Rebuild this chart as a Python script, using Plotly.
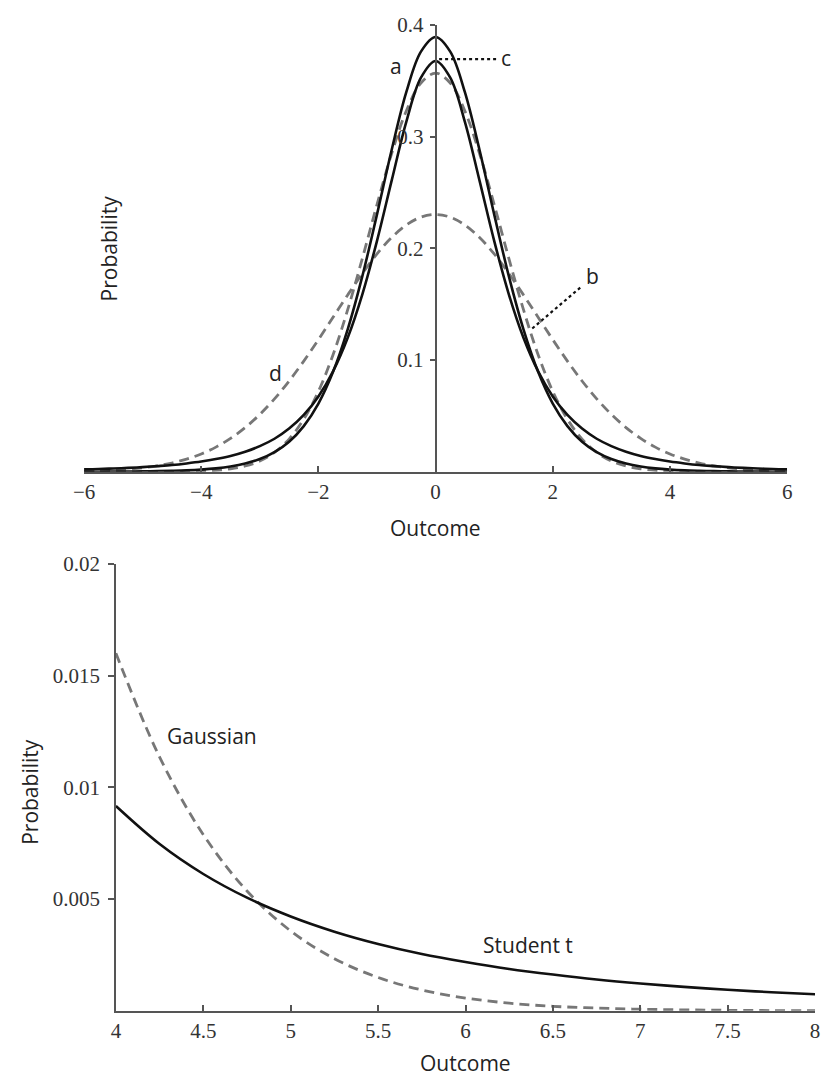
import plotly.graph_objects as go

# ---------------- data ----------------
x_top = [-6.0, -5.75, -5.5, -5.25, -5.0, -4.75, -4.5, -4.25, -4.0, -3.75, -3.5, -3.25,
         -3.0, -2.75, -2.5, -2.25, -2.0, -1.75, -1.5, -1.25, -1.0, -0.75, -0.5, -0.25,
         0.0, 0.25, 0.5, 0.75, 1.0, 1.25, 1.5, 1.75, 2.0, 2.25, 2.5, 2.75, 3.0, 3.25,
         3.5, 3.75, 4.0, 4.25, 4.5, 4.75, 5.0, 5.25, 5.5, 5.75, 6.0]

curve_a = [0.0001, 0.0001, 0.0002, 0.0003, 0.0004, 0.0006, 0.0009, 0.0013, 0.0020, 0.0031,
           0.0048, 0.0074, 0.0114, 0.0176, 0.0269, 0.0409, 0.0611, 0.0895, 0.1275, 0.1751,
           0.2304, 0.2880, 0.3397, 0.3760, 0.3891, 0.3760, 0.3397, 0.2880, 0.2304, 0.1751,
           0.1275, 0.0895, 0.0611, 0.0409, 0.0269, 0.0176, 0.0114, 0.0074, 0.0048, 0.0031,
           0.0020, 0.0013, 0.0009, 0.0006, 0.0004, 0.0003, 0.0002, 0.0001, 0.0001]

curve_b = [0.0, 0.0, 0.0, 0.0, 0.0, 0.0, 0.0001, 0.0003, 0.0006, 0.0013, 0.0027, 0.0052,
           0.0097, 0.0173, 0.0293, 0.0471, 0.0720, 0.1048, 0.1451, 0.1910, 0.2392, 0.2849,
           0.3229, 0.3480, 0.3568, 0.3480, 0.3229, 0.2849, 0.2392, 0.1910, 0.1451, 0.1048,
           0.0720, 0.0471, 0.0293, 0.0173, 0.0097, 0.0052, 0.0027, 0.0013, 0.0006, 0.0003,
           0.0001, 0.0, 0.0, 0.0, 0.0, 0.0, 0.0]

curve_c = [0.0022, 0.0025, 0.0030, 0.0035, 0.0042, 0.0051, 0.0061, 0.0075, 0.0092, 0.0114,
           0.0142, 0.0180, 0.0230, 0.0296, 0.0387, 0.0509, 0.0675, 0.0900, 0.1200, 0.1589,
           0.2067, 0.2606, 0.3132, 0.3527, 0.3676, 0.3527, 0.3132, 0.2606, 0.2067, 0.1589,
           0.1200, 0.0900, 0.0675, 0.0509, 0.0387, 0.0296, 0.0230, 0.0180, 0.0142, 0.0114,
           0.0092, 0.0075, 0.0061, 0.0051, 0.0042, 0.0035, 0.0030, 0.0025, 0.0022]

curve_d = [0.0006, 0.0009, 0.0015, 0.0023, 0.0036, 0.0054, 0.0079, 0.0114, 0.0160, 0.0221,
           0.0299, 0.0396, 0.0514, 0.0653, 0.0813, 0.0991, 0.1183, 0.1383, 0.1583, 0.1775,
           0.1950, 0.2097, 0.2209, 0.2279, 0.2303, 0.2279, 0.2209, 0.2097, 0.1950, 0.1775,
           0.1583, 0.1383, 0.1183, 0.0991, 0.0813, 0.0653, 0.0514, 0.0396, 0.0299, 0.0221,
           0.0160, 0.0114, 0.0079, 0.0054, 0.0036, 0.0023, 0.0015, 0.0009, 0.0006]

x_tail = [4.0, 4.25, 4.5, 4.75, 5.0, 5.25, 5.5, 5.75, 6.0, 6.25, 6.5, 6.75, 7.0, 7.25, 7.5, 7.75, 8.0]
student_t = [0.00916, 0.00746, 0.00612, 0.00506, 0.00422, 0.00354, 0.00299, 0.00254, 0.00218,
             0.00187, 0.00162, 0.00140, 0.00122, 0.00107, 0.00094, 0.00083, 0.00074]
gaussian = [0.01600, 0.01135, 0.00788, 0.00536, 0.00357, 0.00233, 0.00149, 0.00093, 0.00057,
            0.00034, 0.00020, 0.00012, 0.00007, 0.00004, 0.00002, 0.00001, 0.00001]

top_xticks = [-6, -4, -2, 0, 2, 4, 6]
top_xticktext = ["\u22126", "\u22124", "\u22122", "0", "2", "4", "6"]
top_yticks = [0.1, 0.2, 0.3, 0.4]
top_yticktext = ["0.1", "0.2", "0.3", "0.4"]
bot_xticks = [4, 4.5, 5, 5.5, 6, 6.5, 7, 7.5, 8]
bot_xticktext = ["4", "4.5", "5", "5.5", "6", "6.5", "7", "7.5", "8"]
bot_yticks = [0.005, 0.01, 0.015, 0.02]
bot_yticktext = ["0.005", "0.01", "0.015", "0.02"]

# ---------------- styling ----------------
SOLID = "#111111"
DASH = "#777777"
AXIS = "#555555"
TICKFONT = dict(family="Liberation Serif, Times New Roman, serif", size=21, color="#333333")
LABELFONT = dict(family="Open Sans, Noto Sans, sans-serif", size=21, color="#222222")
W = 2.6
DASHPAT = "10px,6px"

fig = go.Figure()

def add(x, y, color, dash, xa, ya, width=W):
    fig.add_trace(go.Scatter(x=x, y=y, mode="lines", xaxis=xa, yaxis=ya,
                             line=dict(color=color, width=width, dash=dash, shape="spline", smoothing=1.0),
                             hoverinfo="skip", showlegend=False))

# top panel
add(x_top, curve_d, DASH, DASHPAT, "x", "y", 2.8)
add(x_top, curve_b, DASH, DASHPAT, "x", "y", 2.8)
add(x_top, curve_c, SOLID, "solid", "x", "y")
add(x_top, curve_a, SOLID, "solid", "x", "y")

# leader lines (top)
fig.add_trace(go.Scatter(x=[0.06, 1.04], y=[0.3693, 0.3693], mode="lines", xaxis="x", yaxis="y",
                         line=dict(color=SOLID, width=2.2, dash="3px,3px"), hoverinfo="skip", showlegend=False))
fig.add_trace(go.Scatter(x=[1.65, 2.49], y=[0.1283, 0.1658], mode="lines", xaxis="x", yaxis="y",
                         line=dict(color=SOLID, width=2.2, dash="3px,3px"), hoverinfo="skip", showlegend=False))

# bottom panel
add(x_tail, gaussian, DASH, DASHPAT, "x2", "y2", 2.8)
add(x_tail, student_t, SOLID, "solid", "x2", "y2")

top_xdom = [74.5 / 824, 791.5 / 824]
top_ydom = [1 - 465 / 1079, 1 - 13 / 1079]
bot_xdom = [107 / 824, 820 / 824]
bot_ydom = [1 - 1010 / 1079, 1 - 558 / 1079]

axis_common = dict(showgrid=False, zeroline=False, showline=True, linecolor=AXIS, linewidth=1.6,
                   tickcolor=AXIS, tickwidth=1.5, tickfont=TICKFONT)

fig.update_layout(
    width=824, height=1079,
    margin=dict(l=0, r=0, t=0, b=0),
    paper_bgcolor="white", plot_bgcolor="white",
    xaxis=dict(domain=top_xdom, range=[-6, 6], anchor="y", tickvals=top_xticks, ticktext=top_xticktext,
               ticks="inside", ticklen=6, **axis_common),
    yaxis=dict(domain=top_ydom, range=[0, 0.4], anchor="free", position=433 / 824,
               tickvals=top_yticks, ticktext=top_yticktext, ticks="outside", ticklen=5,
               ticklabelstandoff=2, **axis_common),
    xaxis2=dict(domain=bot_xdom, range=[4, 8], anchor="y2", tickvals=bot_xticks, ticktext=bot_xticktext,
                ticks="inside", ticklen=6, **axis_common),
    yaxis2=dict(domain=bot_ydom, range=[0, 0.02], anchor="x2", tickvals=bot_yticks, ticktext=bot_yticktext,
                ticks="outside", ticklen=6, ticklabelstandoff=4, **axis_common),
)

annotations = [
    dict(text="a", x=-0.67, y=0.3628, xref="x", yref="y"),
    dict(text="c", x=1.205, y=0.370, xref="x", yref="y"),
    dict(text="b", x=2.68, y=0.1755, xref="x", yref="y"),
    dict(text="d", x=-2.73, y=0.0885, xref="x", yref="y"),
    dict(text="Gaussian", x=4.55, y=0.0123, xref="x2", yref="y2"),
    dict(text="Student t", x=6.36, y=0.00296, xref="x2", yref="y2"),
    dict(text="Outcome", x=433 / 824, y=1 - 522 / 1079, xref="paper", yref="paper"),
    dict(text="Outcome", x=463 / 824, y=1 - 1063 / 1079, xref="paper", yref="paper"),
    dict(text="Probability", x=100 / 824, y=1 - 239 / 1079, xref="paper", yref="paper", textangle=-90),
    dict(text="Probability", x=20 / 824, y=1 - 789 / 1079, xref="paper", yref="paper", textangle=-90),
]
for a in annotations:
    a.update(showarrow=False, font=LABELFONT, xanchor="center", yanchor="middle")
fig.update_layout(annotations=annotations)

fig.write_html("out.html")
